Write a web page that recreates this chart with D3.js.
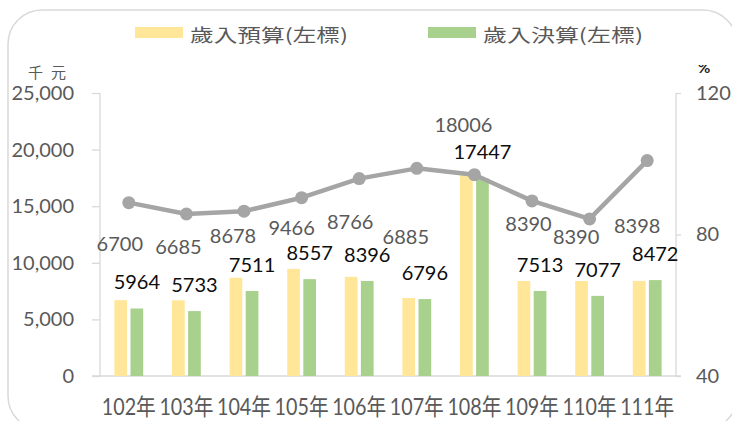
<!DOCTYPE html>
<html><head><meta charset="utf-8">
<script src="https://cdn.jsdelivr.net/npm/d3@7"></script>
<style>
html,body{margin:0;padding:0;background:#fff;}
svg{display:block;}
</style></head>
<body>
<svg id="chart" width="732" height="421"></svg>
<script>
// ---- data ----
const categories = ["102年","103年","104年","105年","106年","107年","108年","109年","110年","111年"];
const budget = [6700, 6685, 8678, 9466, 8766, 6885, 18006, 8390, 8390, 8398];
const actual = [5964, 5733, 7511, 8557, 8396, 6796, 17447, 7513, 7077, 8472];
const ratio  = [89.0, 85.8, 86.6, 90.4, 95.8, 98.7, 96.9, 89.5, 84.4, 100.9];
const leftTicks = [0, 5000, 10000, 15000, 20000, 25000];
const rightTicks = [40, 80, 120];
const legendNames = ["歲入預算(左標)", "歲入決算(左標)"];

// ---- layout nudges for budget value labels (manual placement in original) ----
const budgetLabelDx   = [-9, -8, -11, -10, -9, -11, -11, -3.5, -13.5, -10];
const budgetLabelLift = [49, 46, 35, 34, 48, 54, 40, 50, 37, 48];

(function () {
const svg = d3.select("#chart");
const pL = 100, pR = 676, pT = 93, pB = 376;

// border
svg.append("rect").attr("x", 8).attr("y", 10).attr("width", 729).attr("height", 420)
  .attr("rx", 34).attr("ry", 34).attr("fill", "#fff").attr("stroke", "#D9D9D9").attr("stroke-width", 1.5);

const x0 = d3.scaleBand().domain(categories).range([pL, pR]).paddingInner(0.5).paddingOuter(0.25);
const x1 = d3.scaleBand().domain(["b","a"]).range([0, x0.bandwidth()]).paddingInner(0.21);
const y = d3.scaleLinear().domain([0, 25000]).range([pB, pT]);
const y2 = d3.scaleLinear().domain([40, 120]).range([pB, pT]);
const cx = c => x0(c) + x0.bandwidth() / 2;

const axisColor = "#D9D9D9", textGray = "#595959";
const numFont = "Lato, 'Open Sans', sans-serif";

// left axis
const gl = svg.append("g").attr("transform", `translate(${pL},0)`)
  .call(d3.axisLeft(y).tickValues(leftTicks).tickFormat(d3.format(",")).tickSize(8).tickPadding(18));
// right axis
const gr = svg.append("g").attr("transform", `translate(${pR},0)`)
  .call(d3.axisRight(y2).tickValues(rightTicks).tickSize(5).tickPadding(15));
[gl, gr].forEach(g => {
  g.selectAll("path").attr("stroke", axisColor).attr("stroke-width", 1.3);
  g.selectAll("line").attr("stroke", axisColor).attr("stroke-width", 1.3);
  g.selectAll("text").attr("fill", textGray).attr("font-family", numFont).attr("font-size", 20);
});
gl.select("path").attr("d", `M0,${pT}V${pB}`);
gr.select("path").attr("d", `M0,${pT}V${pB}`);

// bottom axis line
svg.append("line").attr("x1", pL - 8).attr("x2", pR + 5).attr("y1", pB).attr("y2", pB)
  .attr("stroke", axisColor).attr("stroke-width", 1.3);

// category labels
svg.append("g").selectAll("text").data(categories).join("text")
  .attr("x", d => cx(d)).attr("y", 415).attr("text-anchor", "middle")
  .attr("font-family", "Lato, 'Noto Sans CJK TC', sans-serif").attr("font-size", 23)
  .attr("fill", textGray).attr("textLength", 54).attr("lengthAdjust", "spacingAndGlyphs")
  .text(d => d);

// unit labels
svg.append("text").attr("x", 28).attr("y", 78).attr("font-family", "'Noto Sans CJK TC', sans-serif")
  .attr("font-size", 15).attr("letter-spacing", 8).attr("fill", textGray).text("千元");
svg.append("clipPath").attr("id", "pctclip").append("rect").attr("x", 680).attr("y", 65).attr("width", 50).attr("height", 20);
svg.append("text").attr("x", 698).attr("y", 73).attr("font-family", numFont).attr("font-weight", "bold")
  .attr("font-size", 15).attr("fill", "#262626").attr("clip-path", "url(#pctclip)").text("%");

// bars
const colors = { b: "#FFE699", a: "#A9D18E" };
const series = [{ key: "b", values: budget }, { key: "a", values: actual }];
const bars = svg.append("g");
series.forEach(s => {
  bars.selectAll(null).data(s.values).join("rect")
    .attr("x", (d, i) => x0(categories[i]) + x1(s.key))
    .attr("y", d => y(d)).attr("width", x1.bandwidth()).attr("height", d => pB - y(d))
    .attr("fill", colors[s.key]);
});

// line
const line = d3.line().x((d, i) => cx(categories[i])).y(d => y2(d));
svg.append("path").datum(ratio).attr("d", line).attr("fill", "none")
  .attr("stroke", "#A5A5A5").attr("stroke-width", 4.5).attr("stroke-linejoin", "round");
svg.append("g").selectAll("circle").data(ratio).join("circle")
  .attr("cx", (d, i) => cx(categories[i])).attr("cy", d => y2(d)).attr("r", 6.5).attr("fill", "#A5A5A5");

// value labels
svg.append("g").selectAll("text").data(budget).join("text")
  .attr("x", (d, i) => cx(categories[i]) + budgetLabelDx[i])
  .attr("y", (d, i) => y(d) - budgetLabelLift[i])
  .attr("text-anchor", "middle").attr("font-family", numFont).attr("font-size", 20)
  .attr("fill", textGray).text(d => d);
svg.append("g").selectAll("text").data(actual).join("text")
  .attr("x", (d, i) => x0(categories[i]) + x1("a") + x1.bandwidth() / 2)
  .attr("y", d => y(d) - 19)
  .attr("text-anchor", "middle").attr("font-family", numFont).attr("font-size", 20)
  .attr("fill", "#0D0D0D").text(d => d);

// legend
const legendX = [135, 428], legendTextLen = [158, 160];
series.forEach((s, i) => {
  svg.append("rect").attr("x", legendX[i]).attr("y", 27).attr("width", 48).attr("height", 11).attr("fill", colors[s.key]);
  svg.append("text").attr("x", legendX[i] + 55).attr("y", 42)
    .attr("font-family", "'Noto Sans CJK TC', sans-serif").attr("font-size", 18)
    .attr("fill", textGray).attr("textLength", legendTextLen[i]).attr("lengthAdjust", "spacingAndGlyphs")
    .text(legendNames[i]);
});
})();
</script>
</body></html>
